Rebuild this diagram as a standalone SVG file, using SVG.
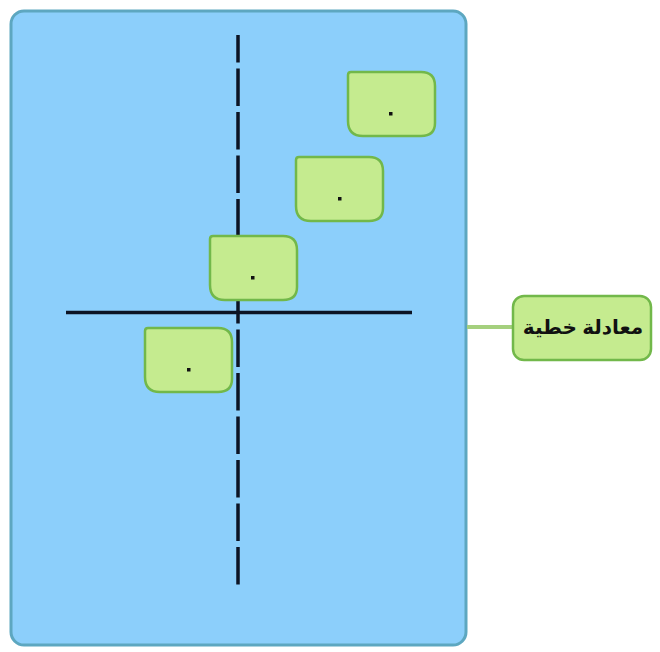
<svg xmlns="http://www.w3.org/2000/svg" width="660" height="652" viewBox="0 0 660 652">
<style>
.box{fill:#c5eb8f;stroke:#72b84a;stroke-width:2.5}
.dot{fill:#111}
.axis{stroke:#0c1424;stroke-width:3.5;fill:none}
.lbl{font-family:"Noto Sans","DejaVu Sans",sans-serif;font-weight:bold;font-size:20px;fill:#111}
</style>
<defs>
<path id="bx" d="M3 0 H73 Q87 0 87 14 V51 Q87 64 73 64 H15 Q0 64 0 49 V3 Q0 0 3 0 Z"/>
</defs>
<rect width="660" height="652" fill="#ffffff"/>
<g id="frame">
<rect x="11" y="11" width="455" height="634" rx="13" fill="#8ccffb" stroke="#5da7c0" stroke-width="3"/>
</g>
<g id="connectors">
<line x1="467" y1="327" x2="513" y2="327" stroke="#a5d07e" stroke-width="4"/>
<line class="axis" x1="66" y1="312.5" x2="412" y2="312.5"/>
<line class="axis" x1="238" y1="35" x2="238" y2="588" stroke-dasharray="37.5 6" stroke-dashoffset="10"/>
</g>
<g id="box1" transform="translate(348,72)">
<use href="#bx" class="box"/>
<rect class="dot" x="41" y="40" width="3.5" height="3.5"/>
</g>
<g id="box2" transform="translate(296,157)">
<use href="#bx" class="box"/>
<rect class="dot" x="42" y="40" width="3.5" height="3.5"/>
</g>
<g id="box3" transform="translate(210,236)">
<use href="#bx" class="box"/>
<rect class="dot" x="41" y="40" width="3.5" height="3.5"/>
</g>
<g id="box4" transform="translate(145,328)">
<use href="#bx" class="box"/>
<rect class="dot" x="42" y="40" width="3.5" height="3.5"/>
</g>
<g id="label">
<rect class="box" x="513" y="296" width="138" height="64" rx="11"/>
<text class="lbl" x="583" y="334" text-anchor="middle" direction="rtl">معادلة خطية</text>
</g>
</svg>
